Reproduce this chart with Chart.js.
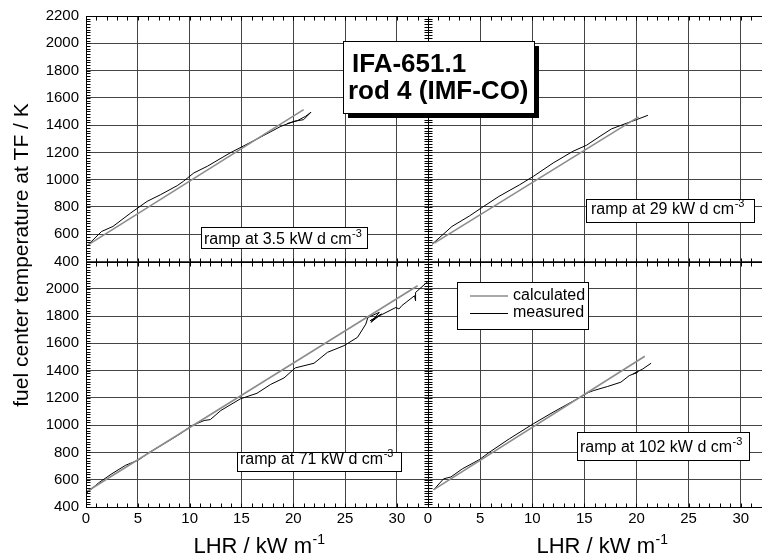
<!DOCTYPE html>
<html>
<head>
<meta charset="utf-8">
<script src="https://cdn.jsdelivr.net/npm/chart.js@4.4.1/dist/chart.umd.min.js"></script>
<style>
    html, body { margin: 0; padding: 0; overflow: hidden; background: #fff; }
    #wrap { width: 780px; height: 560px; }
</style>
</head>
<body>
<div id="wrap"><canvas id="myChart" width="780" height="560"></canvas></div>
<script>
// tick values
var lhrTicks = [0, 5, 10, 15, 20, 25, 30];
var tempTicksTop = [400, 600, 800, 1000, 1200, 1400, 1600, 1800, 2000, 2200];
var tempTicksBottom = [400, 600, 800, 1000, 1200, 1400, 1600, 1800, 2000];

var rampLabels = ['ramp at 3.5 kW d cm', 'ramp at 29 kW d cm', 'ramp at 71 kW d cm', 'ramp at 102 kW d cm'];
var seriesNames = ['calculated', 'measured'];

// ramp at 3.5 (top left)
var calc35X = [0.2, 21.0];
var calc35Y = [522, 1514];
var meas35X = [0.1, 1.5, 2.6, 4.3, 5.9, 7.2, 8.8, 9.4, 10.4, 11.7, 13.9, 16.7, 18.8, 20.1, 21.0, 21.7, 21.2, 20.4, 19.4];
var meas35Y = [515, 620, 657, 755, 841, 890, 956, 988, 1049, 1098, 1196, 1306, 1391, 1428, 1440, 1494, 1465, 1433, 1411];

// ramp at 29 (top right)
var calc29X = [0.6, 20.2];
var calc29Y = [535, 1460];
var meas29X = [0.4, 2.3, 4.0, 5.1, 6.8, 8.8, 10.1, 12.0, 13.9, 15.2, 16.5, 17.6, 18.7, 20.0, 21.1];
var meas29Y = [527, 657, 735, 792, 877, 963, 1024, 1122, 1208, 1252, 1318, 1372, 1404, 1440, 1472];

// ramp at 71 (bottom left)
var calc71X = [0.0, 32.0];
var calc71Y = [510, 2022];
var meas71X = [0.0, 1.2, 2.5, 3.8, 5.1, 6.0, 7.8, 9.1, 10.1, 11.4, 12.0, 13.0, 14.9, 16.5, 17.8, 19.1, 20.2, 22.0, 23.3, 24.9, 26.2, 27.0, 27.2, 28.3, 27.5, 28.5, 27.4, 28.4, 29.9, 30.2, 30.5, 31.7, 31.8, 31.8, 33.0];
var meas71Y = [498, 576, 644, 705, 746, 795, 876, 937, 993, 1034, 1041, 1107, 1193, 1234, 1298, 1346, 1420, 1454, 1534, 1583, 1644, 1741, 1790, 1827, 1754, 1815, 1765, 1805, 1863, 1852, 1878, 1949, 1912, 1973, 2054];

// ramp at 102 (bottom right)
var calc102X = [0.55, 20.8];
var calc102Y = [527, 1505];
var meas102X = [0.55, 1.5, 2.2, 3.3, 4.9, 5.9, 7.8, 10.1, 12.0, 14.6, 15.4, 15.9, 17.2, 18.5, 19.3, 20.1, 19.7, 20.6, 21.4];
var meas102Y = [527, 607, 620, 680, 746, 802, 900, 1010, 1095, 1205, 1240, 1254, 1283, 1315, 1363, 1388, 1376, 1412, 1454];

var FONT = "'Liberation Sans', Arial, Helvetica, sans-serif";
Chart.defaults.font.family = FONT;
Chart.defaults.color = '#000';

var toPoints = function (xs, ys) {
    return xs.map(function (x, i) {
        return {x: x, y: ys[i]};
    });
};

var panels = [
    {calcX: calc35X, calcY: calc35Y, measX: meas35X, measY: meas35Y, x: 'xL', y: 'yT'},
    {calcX: calc29X, calcY: calc29Y, measX: meas29X, measY: meas29Y, x: 'xR', y: 'yT'},
    {calcX: calc71X, calcY: calc71Y, measX: meas71X, measY: meas71Y, x: 'xL', y: 'yB'},
    {calcX: calc102X, calcY: calc102Y, measX: meas102X, measY: meas102Y, x: 'xR', y: 'yB'}
];

var datasets = [];
panels.forEach(function (p) {
    datasets.push({
        label: seriesNames[0], data: toPoints(p.calcX, p.calcY),
        xAxisID: p.x, yAxisID: p.y,
        borderColor: '#8c8c8c', borderWidth: 1.6, pointRadius: 0, tension: 0
    });
});
panels.forEach(function (p) {
    datasets.push({
        label: seriesNames[1], data: toPoints(p.measX, p.measY),
        xAxisID: p.x, yAxisID: p.y,
        borderColor: '#000', borderWidth: 1, pointRadius: 0, tension: 0
    });
});

var plainNumber = function (v) { return String(v); };

var xAxis = function (weight) {
    return {
        type: 'linear', position: 'bottom', stack: 'lhr', stackWeight: weight,
        min: 0, max: 33,
        afterBuildTicks: function (scale) {
            scale.ticks = lhrTicks.map(function (v) { return {value: v}; });
        },
        afterFit: function (scale) { scale.height = 53; },
        ticks: {font: {size: 15}, padding: 3, maxRotation: 0, autoSkip: false, color: '#000', callback: plainNumber},
        grid: {color: '#444', lineWidth: 1, drawTicks: false},
        border: {color: '#000', width: 1}
    };
};

var yAxis = function (tickValues) {
    return {
        type: 'linear', position: 'left', stack: 'temp', stackWeight: 1,
        min: 400, max: 2200,
        afterBuildTicks: function (scale) {
            scale.ticks = tickValues.map(function (v) { return {value: v}; });
        },
        afterFit: function (scale) { scale.width = 86; },
        ticks: {font: {size: 15}, padding: 7, autoSkip: false, color: '#000', callback: plainNumber},
        grid: {color: '#444', lineWidth: 1, drawTicks: false},
        border: {color: '#000', width: 1}
    };
};

var drawSup = function (ctx, text, sup, x, y, size, supSize, align) {
    ctx.font = size + 'px ' + FONT;
    var w1 = ctx.measureText(text).width;
    ctx.font = supSize + 'px ' + FONT;
    var w2 = ctx.measureText(sup).width;
    var startX = align === 'center' ? x - (w1 + w2) / 2 : x;
    ctx.textAlign = 'left';
    ctx.textBaseline = 'alphabetic';
    ctx.font = size + 'px ' + FONT;
    ctx.fillText(text, startX, y);
    ctx.font = supSize + 'px ' + FONT;
    ctx.fillText(sup, startX + w1 + 0.5, y - size * 0.42);
};

var framePlugin = {
    id: 'frame',
    afterDatasetsDraw: function (chart) {
        var ctx = chart.ctx, a = chart.chartArea, s = chart.scales;
        var r = function (v) { return Math.round(v) + 0.5; };
        var midX = r(s.xR.left), midY = r(s.yT.bottom);
        var L = r(a.left), R = r(a.right), T = r(a.top), B = r(a.bottom);
        ctx.save();
        ctx.strokeStyle = '#000';
        ctx.lineWidth = 1;
        ctx.beginPath();
        ctx.moveTo(L, T); ctx.lineTo(R, T); ctx.lineTo(R, B); ctx.lineTo(L, B); ctx.closePath();
        ctx.moveTo(midX, T); ctx.lineTo(midX, B);
        ctx.moveTo(L, midY); ctx.lineTo(R, midY);
        // minor ticks on x
        ['xL', 'xR'].forEach(function (id) {
            for (var v = 0; v <= 33; v++) {
                var px = r(s[id].getPixelForValue(v));
                ctx.moveTo(px, T); ctx.lineTo(px, T + 4);
                ctx.moveTo(px, midY - 4); ctx.lineTo(px, midY + 4);
                ctx.moveTo(px, B - 4); ctx.lineTo(px, B);
            }
        });
        // minor ticks on y
        ['yT', 'yB'].forEach(function (id) {
            for (var v = 400; v <= 2200; v += 20) {
                var py = r(s[id].getPixelForValue(v));
                ctx.moveTo(L, py); ctx.lineTo(L + 4, py);
                ctx.moveTo(midX - 4, py); ctx.lineTo(midX + 4, py);
                ctx.moveTo(R - 4, py); ctx.lineTo(R, py);
            }
        });
        ctx.stroke();
        ctx.restore();
    },
    afterDraw: function (chart) {
        var ctx = chart.ctx, s = chart.scales;
        ctx.save();
        ctx.fillStyle = '#000';
        ctx.strokeStyle = '#000';
        ctx.lineWidth = 1;

        // axis titles
        ['xL', 'xR'].forEach(function (id) {
            drawSup(ctx, 'LHR / kW m', '-1', (s[id].left + s[id].right) / 2 + 2, 553, 22, 14, 'center');
        });
        ctx.save();
        ctx.translate(28, 255);
        ctx.rotate(-Math.PI / 2);
        ctx.font = '21px ' + FONT;
        ctx.textAlign = 'center';
        ctx.textBaseline = 'alphabetic';
        ctx.fillText('fuel center temperature at TF / K', 0, 0);
        ctx.restore();

        // ramp label boxes
        var boxes = [
            {x: 201, y: 227, w: 166, h: 21, tx: 204, ty: 244},
            {x: 586, y: 199, w: 168, h: 23, tx: 591, ty: 214},
            {x: 237, y: 452, w: 164, h: 19, tx: 240, ty: 464},
            {x: 577, y: 432, w: 172, h: 28, tx: 580, ty: 452}
        ];
        boxes.forEach(function (b, i) {
            ctx.fillStyle = '#fff';
            ctx.fillRect(b.x, b.y, b.w, b.h);
            ctx.strokeRect(b.x + 0.5, b.y + 0.5, b.w, b.h);
            ctx.fillStyle = '#000';
            drawSup(ctx, rampLabels[i], '-3', b.tx, b.ty, 16, 11, 'left');
        });

        // legend
        ctx.fillStyle = '#fff';
        ctx.fillRect(457, 282, 131, 47);
        ctx.strokeRect(457.5, 282.5, 131, 47);
        ctx.lineWidth = 1.6;
        ctx.strokeStyle = '#8c8c8c';
        ctx.beginPath(); ctx.moveTo(470, 296); ctx.lineTo(508, 296); ctx.stroke();
        ctx.lineWidth = 1;
        ctx.strokeStyle = '#000';
        ctx.beginPath(); ctx.moveTo(470, 313.5); ctx.lineTo(508, 313.5); ctx.stroke();
        ctx.fillStyle = '#000';
        ctx.font = '16px ' + FONT;
        ctx.textAlign = 'left';
        ctx.textBaseline = 'middle';
        ctx.fillText(seriesNames[0], 513, 296);
        ctx.fillText(seriesNames[1], 513, 313);

        // title box with shadow
        ctx.fillStyle = '#000';
        ctx.fillRect(348, 46, 191, 72);
        ctx.fillStyle = '#fff';
        ctx.fillRect(343, 41, 191, 72);
        ctx.strokeRect(343.5, 41.5, 191, 72);
        ctx.fillStyle = '#000';
        ctx.font = 'bold 26px ' + FONT;
        ctx.textBaseline = 'alphabetic';
        ctx.fillText('IFA-651.1', 352, 72);
        ctx.fillText('rod 4 (IMF-CO)', 348, 99);
        ctx.restore();
    }
};

var chart = new Chart(document.getElementById('myChart'), {
    type: 'line',
    data: {datasets: datasets},
    plugins: [framePlugin],
    options: {
        responsive: false,
        animation: false,
        layout: {padding: {left: 0, right: 8, top: 16, bottom: 0}},
        plugins: {
            legend: {display: false},
            tooltip: {enabled: false}
        },
        scales: {
            // left boxes are laid out in reverse order, so the lower panel comes first
            yB: yAxis(tempTicksBottom),
            yT: yAxis(tempTicksTop),
            xL: xAxis(342),
            xR: xAxis(344)
        }
    }
});
</script>
</body>
</html>
